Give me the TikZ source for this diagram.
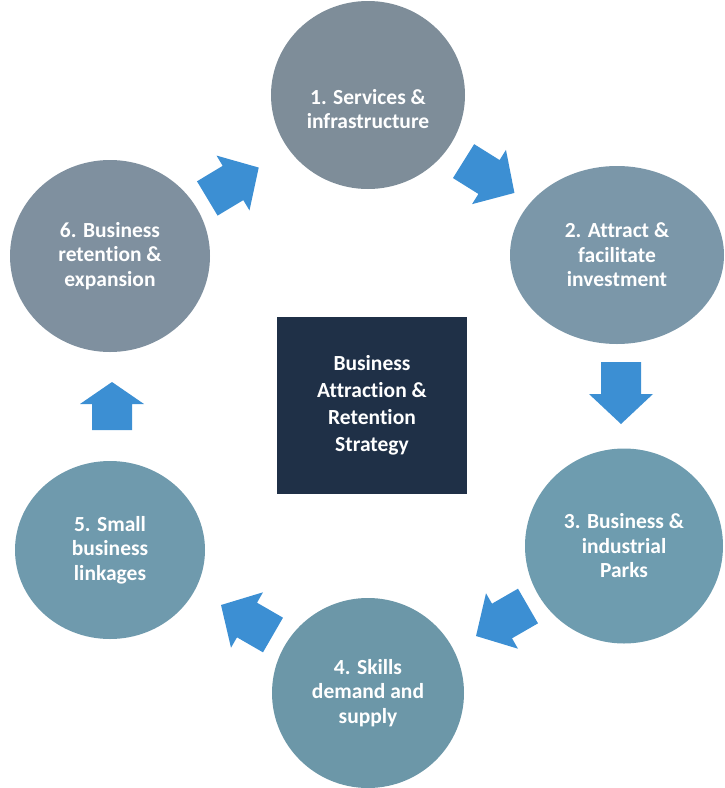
\documentclass[tikz,border=0pt]{standalone}
\usepackage{fontspec}
\setmainfont{Carlito}[Ligatures=NoCommon]
\usetikzlibrary{shapes.geometric}

\definecolor{stepA}{HTML}{7E8D99}
\definecolor{stepB}{HTML}{7B97A9}
\definecolor{stepC}{HTML}{6E9CAF}
\definecolor{stepD}{HTML}{6C97A8}
\definecolor{stepE}{HTML}{6F9AAD}
\definecolor{stepF}{HTML}{7F909F}
\definecolor{flowblue}{HTML}{3C8FD3}
\definecolor{corenavy}{HTML}{1F3047}

\tikzset{
  stage/.style={ellipse, inner sep=0pt, draw=none, text=white,
    font=\fontsize{21.5}{24.5}\selectfont\bfseries, align=center},
  stagetext/.style={text=white, font=\fontsize{21.5}{24.5}\selectfont\bfseries, align=center},
  core/.style={rectangle, fill=corenavy, minimum width=190pt, minimum height=177pt,
    text=white, font=\fontsize{21.5}{27}\selectfont\bfseries, align=center},
  arrowlen/.store in=\arrowlen, arrowlen=60,
  headlen/.store in=\headlen, headlen=30,
  blockarrow/.pic={
    \fill[flowblue] (-\arrowlen/2,-20) -- (\arrowlen/2-\headlen,-20)
      -- (\arrowlen/2-\headlen,-32) -- (\arrowlen/2,0)
      -- (\arrowlen/2-\headlen,32) -- (\arrowlen/2-\headlen,20)
      -- (-\arrowlen/2,20) -- cycle;
  },
}

\begin{document}
\begin{tikzpicture}[x=1pt,y=-1pt]
  \useasboundingbox (0,0) rectangle (724,788);
  \clip (0,0) rectangle (724,788);

  % stages of the cycle
  \node[stage, fill=stepA, minimum width=194pt, minimum height=188pt] (c1) at (368,95) {};
  \node[stagetext] (t1) at (368,109) {1. Services \&\\infrastructure};
  \node[stage, fill=stepB, minimum width=214pt, minimum height=178pt] (c2) at (617,255)
    {2. Attract \&\\facilitate\\investment};
  \node[stage, fill=stepC, minimum width=198pt, minimum height=195pt] (c3) at (624,546)
    {3. Business \&\\industrial\\Parks};
  \node[stage, fill=stepD, minimum width=192pt, minimum height=190pt] (c4) at (368,693)
    {4. Skills\\demand and\\supply};
  \node[stage, fill=stepE, minimum width=190pt, minimum height=178pt] (c5) at (110,550)
    {5. Small\\business\\linkages};
  \node[stage, fill=stepF, minimum width=200pt, minimum height=192pt] (c6) at (110,256)
    {6. Business\\retention \&\\expansion};

  % central strategy box
  \node[core] (core) at (372,405) {Business\\Attraction \&\\Retention\\Strategy};

  % block arrows between the stages
  \pic[rotate=31] (a61) at (233,183) {blockarrow};
  \pic[rotate=-32] (a12) at (489,177) {blockarrow};
  \pic[rotate=-90, arrowlen=62] (a23) at (621,393) {blockarrow};
  \pic[rotate=210] (a34) at (502,621) {blockarrow};
  \pic[rotate=150] (a45) at (247,620) {blockarrow};
  \pic[rotate=90, arrowlen=48, headlen=22] (a56) at (112,406) {blockarrow};
\end{tikzpicture}
\end{document}
